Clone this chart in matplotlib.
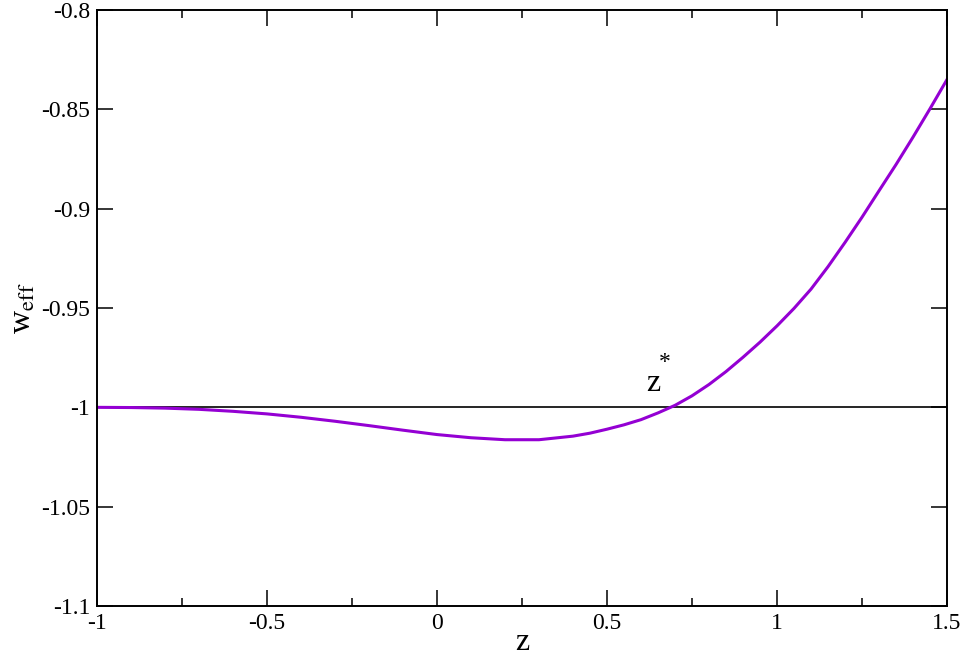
import matplotlib

matplotlib.use("Agg")
import matplotlib.pyplot as plt
from matplotlib.ticker import FuncFormatter, MultipleLocator

plt.rcParams["font.family"] = ["Liberation Serif", "DejaVu Serif"]
plt.rcParams["mathtext.fontset"] = "stix"
plt.rcParams["axes.unicode_minus"] = False

PURPLE, INK = "#9400d3", "#000000"

# curve
Z = [-1.0, -0.9, -0.8, -0.7, -0.6, -0.5, -0.4, -0.3, -0.2, -0.1, 0.0, 0.1, 0.2,
     0.3, 0.4, 0.45, 0.5, 0.55, 0.6, 0.65, 0.7, 0.75, 0.8, 0.85, 0.9, 0.95, 1.0,
     1.05, 1.1, 1.15, 1.2, 1.25, 1.3, 1.35, 1.4, 1.45, 1.5]
W_EFF = [-1.0000, -1.0001, -1.0004, -1.0010, -1.0020, -1.0033, -1.0050, -1.0070,
         -1.0092, -1.0115, -1.0137, -1.0153, -1.0163, -1.0163, -1.0145, -1.0130,
         -1.0110, -1.0088, -1.0062, -1.0028, -0.9990, -0.9942, -0.9885, -0.9820,
         -0.9748, -0.9672, -0.9590, -0.9502, -0.9405, -0.9292, -0.9170, -0.9043,
         -0.8910, -0.8778, -0.8640, -0.8497, -0.8350]
W_REF = -1.0
Z_STAR_TEXT = (0.615, -0.9916)
Z_STAR_MARK = (0.671, -0.9775)


def _label(v, _pos):
    return f"{v:g}"


fig = plt.figure(figsize=(9.63, 6.57), dpi=100)
ax = fig.add_axes([0.1007, 0.0776, 0.8827, 0.9072])

ax.axhline(W_REF, color=INK, linewidth=1.2)
ax.plot(Z, W_EFF, color=PURPLE, linewidth=2.2, solid_joinstyle="round")
ax.text(*Z_STAR_TEXT, "z", fontsize=23, color=INK, va="baseline")
ax.text(*Z_STAR_MARK, "*", fontsize=17, color=INK, ha="center", va="center")

ax.set_xlim(-1, 1.5)
ax.set_ylim(-1.1, -0.8)
ax.xaxis.set_major_locator(MultipleLocator(0.5))
ax.xaxis.set_minor_locator(MultipleLocator(0.25))
ax.yaxis.set_major_locator(MultipleLocator(0.05))
ax.xaxis.set_major_formatter(FuncFormatter(_label))
ax.yaxis.set_major_formatter(FuncFormatter(_label))

ax.tick_params(which="both", direction="in", top=True, right=True, labelsize=17,
               width=1.1, color=INK, pad=5)
ax.tick_params(which="major", length=11.5)
ax.tick_params(which="minor", length=6)
for s in ax.spines.values():
    s.set_linewidth(1.4)

ax.set_xlabel("z", fontsize=23, labelpad=-4)
ax.set_ylabel("w$_{\\mathrm{eff}}$", fontsize=23, labelpad=2)

fig.savefig("out.png", dpi=100)
